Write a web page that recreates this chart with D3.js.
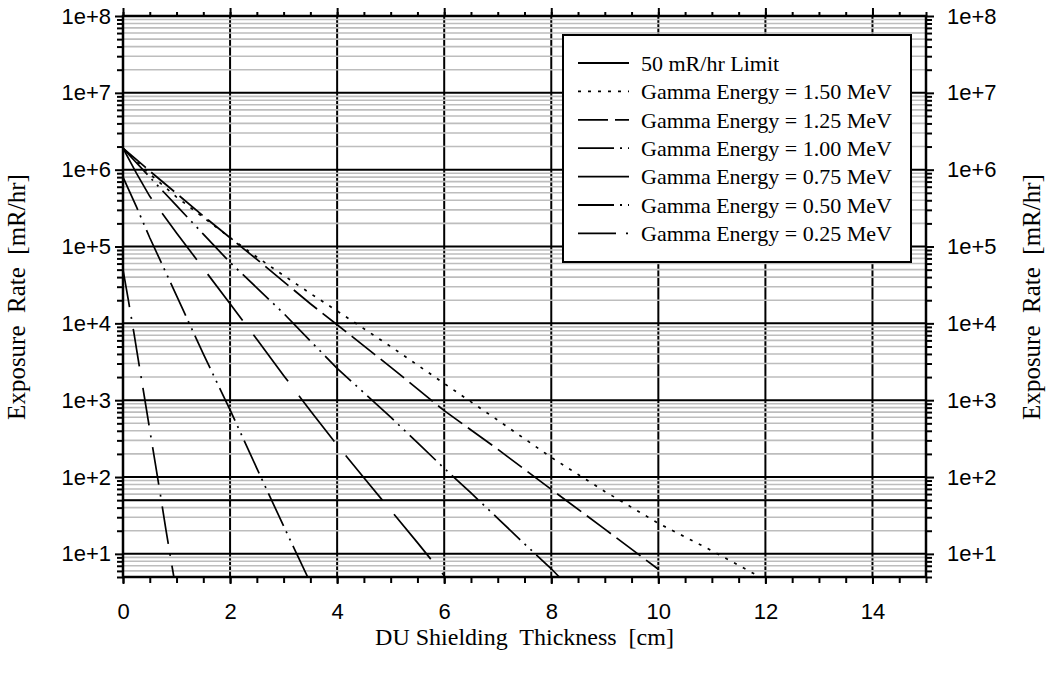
<!DOCTYPE html>
<html><head><meta charset="utf-8">
<script src="https://cdn.jsdelivr.net/npm/d3@7"></script>
<style>body{margin:0;background:#fff} svg{display:block}</style>
</head><body><svg id="chart" width="1047" height="673"></svg>
<script>
// ---- data ----
const xTickValues = [0, 2, 4, 6, 8, 10, 12, 14];
const yTickValues = [10, 100, 1e3, 1e4, 1e5, 1e6, 1e7, 1e8];
const yTickLabels = ["1e+1", "1e+2", "1e+3", "1e+4", "1e+5", "1e+6", "1e+7", "1e+8"];
const limitValue = 50;
const legendLabels = ["50 mR/hr Limit", "Gamma Energy = 1.50 MeV", "Gamma Energy = 1.25 MeV",
  "Gamma Energy = 1.00 MeV", "Gamma Energy = 0.75 MeV", "Gamma Energy = 0.50 MeV", "Gamma Energy = 0.25 MeV"];

const x150 = [0, 0.5, 1, 1.5, 2, 2.5, 3, 3.5, 4, 5, 6, 7, 8, 9, 10, 11, 11.9];
const y150 = [1.9e6, 8.8e5, 4.4e5, 2.4e5, 1.3e5, 7.3e4, 4.2e4, 2.45e4, 1.45e4, 5e3, 1.65e3, 550, 180, 65, 25, 11, 5];
const x125 = [0, 0.5, 1, 1.5, 2, 2.5, 3, 3.5, 4, 5, 6, 7, 8, 9, 10];
const y125 = [1.9e6, 9.6e5, 4.9e5, 2.5e5, 1.3e5, 6.8e4, 3.5e4, 1.8e4, 9.6e3, 2.7e3, 730, 230, 69, 21, 6.3];
const x100 = [0, 0.5, 1, 1.5, 2, 2.5, 3, 3.5, 4, 4.5, 5, 5.5, 6, 6.5, 7, 7.5, 8, 8.15];
const y100 = [1.9e6, 8e5, 3.4e5, 1.45e5, 6.2e4, 2.9e4, 1.35e4, 5.9e3, 2.6e3, 1.25e3, 600, 280, 130, 62, 29, 13.5, 6.4, 5];
const x075 = [0, 0.25, 0.5, 1, 1.5, 2, 2.5, 3, 3.5, 4, 4.5, 5, 5.5, 6];
const y075 = [1.9e6, 9e5, 4.5e5, 1.5e5, 5.2e4, 1.8e4, 6.2e3, 2.1e3, 730, 260, 98, 37, 14, 5.2];
const x050 = [0, 0.25, 0.5, 1, 1.5, 2, 2.5, 3, 3.45];
const y050 = [8e5, 3.3e5, 1.3e5, 2.3e4, 4e3, 750, 130, 23, 5];
const x025 = [0, 0.1, 0.2, 0.3, 0.4, 0.5, 0.6, 0.7, 0.8, 0.9, 0.95];
const y025 = [5e4, 2e4, 7.8e3, 2.9e3, 1.1e3, 410, 155, 58, 21, 8, 5];

// ---- drawing ----
const svg = d3.select("#chart");
const L = 123, R = 926, T = 16, B = 577;
const x = d3.scaleLinear().domain([0, 15]).range([L, R]);
const y = d3.scaleLog().domain([5, 1e8]).range([B, T]);

const series = [
  {xs: x150, ys: y150, dash: "3,7"},
  {xs: x125, ys: y125, dash: "30,7"},
  {xs: x100, ys: y100, dash: "36,6,2,6,2,6"},
  {xs: x075, ys: y075, dash: "58,18"},
  {xs: x050, ys: y050, dash: "36,6,2,6,2,6"},
  {xs: x025, ys: y025, dash: "38,10,2,10"}
];

const yMinor = [];
for (let d = 0; d < 8; d++) for (let k = 2; k <= 9; k++) {
  const v = k * Math.pow(10, d);
  if (v >= 5 && v < 1e8) yMinor.push(v);
}
const xMinor = d3.range(0, 15.01, 0.5);

const g = svg.append("g");
g.selectAll(".vg").data(xTickValues.filter(d => d > 0)).join("line")
  .attr("x1", d => x(d)).attr("x2", d => x(d)).attr("y1", T).attr("y2", B)
  .attr("stroke", "#000").attr("stroke-width", 2);
g.selectAll(".hm").data(yMinor).join("line")
  .attr("x1", L).attr("x2", R).attr("y1", d => y(d)).attr("y2", d => y(d))
  .attr("stroke", "#bdbdbd").attr("stroke-width", 1.6);
g.selectAll(".hM").data(yTickValues).join("line")
  .attr("x1", L).attr("x2", R).attr("y1", d => y(d)).attr("y2", d => y(d))
  .attr("stroke", "#000").attr("stroke-width", 2);

const tickFont = "'Liberation Sans', Arial, sans-serif";
function styleAxis(sel) {
  sel.select(".domain").remove();
  sel.selectAll(".tick line").attr("stroke", "#000").attr("stroke-width", 2);
  sel.selectAll("text").attr("font-family", tickFont).attr("font-size", 22).attr("fill", "#000");
}
const fmt = d => yTickLabels[yTickValues.indexOf(d)];
svg.append("g").attr("transform", `translate(${L},0)`)
  .call(d3.axisLeft(y).tickValues(yMinor).tickSize(6).tickFormat("")).call(styleAxis);
svg.append("g").attr("transform", `translate(${L},0)`)
  .call(d3.axisLeft(y).tickValues(yTickValues).tickSize(8).tickPadding(4).tickFormat(fmt)).call(styleAxis);
svg.append("g").attr("transform", `translate(${R},0)`)
  .call(d3.axisRight(y).tickValues(yMinor).tickSize(6).tickFormat("")).call(styleAxis);
svg.append("g").attr("transform", `translate(${R},0)`)
  .call(d3.axisRight(y).tickValues(yTickValues).tickSize(8).tickPadding(13).tickFormat(fmt)).call(styleAxis);
svg.append("g").attr("transform", `translate(0,${B})`)
  .call(d3.axisBottom(x).tickValues(xMinor).tickSize(6).tickFormat("")).call(styleAxis);
svg.append("g").attr("transform", `translate(0,${B})`)
  .call(d3.axisBottom(x).tickValues(xTickValues).tickSize(7).tickPadding(19).tickFormat(d3.format("d"))).call(styleAxis);
svg.append("g").attr("transform", `translate(0,${T})`)
  .call(d3.axisTop(x).tickValues(xMinor).tickSize(4).tickFormat("")).call(styleAxis);
svg.append("g").attr("transform", `translate(0,${T})`)
  .call(d3.axisTop(x).tickValues(xTickValues).tickSize(8).tickFormat("")).call(styleAxis);

svg.append("rect").attr("x", L).attr("y", T).attr("width", R - L).attr("height", B - T)
  .attr("fill", "none").attr("stroke", "#000").attr("stroke-width", 2.5);

svg.append("clipPath").attr("id", "clip").append("rect")
  .attr("x", L).attr("y", T).attr("width", R - L).attr("height", B - T);

svg.append("line").attr("x1", L).attr("x2", R).attr("y1", y(limitValue)).attr("y2", y(limitValue))
  .attr("stroke", "#000").attr("stroke-width", 2);

const line = d3.line().x(d => x(d[0])).y(d => y(d[1]));
const cg = svg.append("g").attr("clip-path", "url(#clip)");
series.forEach(s => {
  cg.append("path").datum(s.xs.map((v, i) => [v, s.ys[i]]))
    .attr("d", line).attr("fill", "none").attr("stroke", "#000")
    .attr("stroke-width", 1.7).attr("stroke-dasharray", s.dash);
});

const serif = "'Liberation Serif', 'Times New Roman', serif";
svg.append("text").attr("x", (L + R) / 2).attr("y", 645).attr("text-anchor", "middle")
  .attr("font-family", serif).attr("font-size", 24).style("white-space", "pre")
  .text("DU Shielding  Thickness  [cm]");
svg.append("text").attr("transform", "translate(25,297) rotate(-90)").attr("text-anchor", "middle")
  .attr("font-family", serif).attr("font-size", 25).style("white-space", "pre")
  .text("Exposure  Rate  [mR/hr]");
svg.append("text").attr("transform", "translate(1040,297) rotate(-90)").attr("text-anchor", "middle")
  .attr("font-family", serif).attr("font-size", 25).style("white-space", "pre")
  .text("Exposure  Rate  [mR/hr]");

const lg = svg.append("g");
lg.append("rect").attr("x", 563).attr("y", 35).attr("width", 348).attr("height", 227)
  .attr("fill", "#fff").attr("stroke", "#000").attr("stroke-width", 2);
const dashes = [null].concat(series.map(s => s.dash));
legendLabels.forEach((lab, i) => {
  const cy = 63 + i * 28.4;
  lg.append("line").attr("x1", 578).attr("x2", 629).attr("y1", cy).attr("y2", cy)
    .attr("stroke", "#000").attr("stroke-width", 1.8).attr("stroke-dasharray", dashes[i]);
  lg.append("text").attr("x", 641).attr("y", cy).attr("dy", "0.35em")
    .attr("font-family", serif).attr("font-size", 22).text(lab);
});
</script></body></html>
